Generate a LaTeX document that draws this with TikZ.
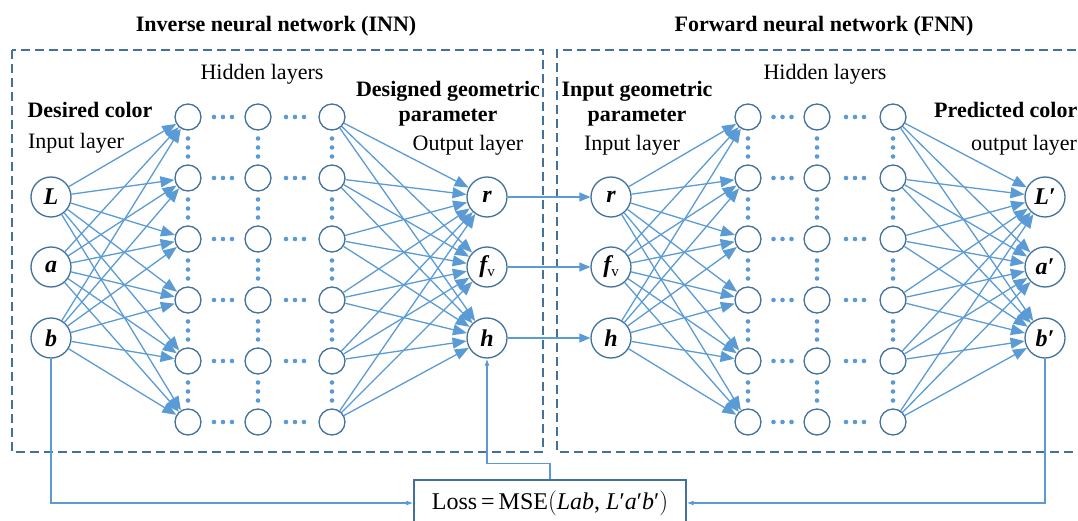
\documentclass[tikz,border=0pt]{standalone}
\usepackage{fontspec}
\setmainfont{Liberation Serif}
\usetikzlibrary{arrows.meta}
\definecolor{lineblue}{HTML}{5B9BD5}
\definecolor{circblue}{HTML}{41719C}
\begin{document}
\begin{tikzpicture}[x=1pt,y=-1pt,
  neuron/.style={circle,draw=circblue,line width=1.3pt,minimum size=26pt,inner sep=0pt},
  io/.style={circle,draw=circblue,line width=1.3pt,minimum size=40pt,inner sep=0pt,font=\fontsize{24}{24}\selectfont\bfseries\itshape},
  conn/.style={draw=lineblue,line width=1.3pt,-{Triangle[length=14pt,width=11pt]}},
  link/.style={draw=lineblue,line width=1.3pt,-{Triangle[length=11pt,width=9pt]}},
  fb/.style={draw=lineblue,line width=1.2pt,-{Latex[length=7pt,width=5pt]}},
  frame/.style={draw=circblue,line width=1.3pt,dash pattern=on 9pt off 5pt},
  lbl/.style={font=\fontsize{22}{25}\selectfont,inner sep=0pt,align=center},
  blbl/.style={font=\fontsize{22}{25}\selectfont\bfseries,inner sep=0pt,align=center},
  lossbox/.style={draw=circblue,line width=1.3pt,minimum width=272pt,minimum height=46pt,inner sep=0pt,font=\fontsize{24}{26}\selectfont}]
\useasboundingbox (0,0) rectangle (1078,521);

% frames
\draw[frame] (12,50) rectangle (543,452);
\draw[frame] (1090,50) -- (557,50) -- (557,452) -- (1090,452);

% titles and labels
\node[blbl] (t1) at (276,26) {Inverse neural network (INN)};
\node[blbl] (t2) at (824,26) {Forward neural network (FNN)};
\node[lbl] (h1) at (262,74) {Hidden layers};
\node[lbl] (h2) at (825,74) {Hidden layers};
\node[blbl] (dc) at (90,110) {Desired color};
\node[lbl] (il1) at (76,143) {Input layer};
\node[blbl] (dg) at (448,104) {Designed geometric\\parameter};
\node[lbl] (ol1) at (468,145) {Output layer};
\node[blbl] (ig) at (637,104) {Input geometric\\parameter};
\node[lbl] (il2) at (632,145) {Input layer};
\node[blbl,anchor=west] (pc) at (934,110) {Predicted color};
\node[lbl,anchor=west] (ol2) at (971,145) {output layer};

% io nodes
\node[io] (IL) at (51,197) {L};
\node[io] (Ia) at (51,267) {a};
\node[io] (Ib) at (51,338) {b};
\node[io] (Or) at (487,197) {r};
\node[io] (Of) at (487,267) {f\raisebox{-0.35ex}{\normalfont\fontsize{15}{15}\selectfont v}};
\node[io] (Oh) at (487,338) {h};
\node[io] (Fr) at (611,197) {r};
\node[io] (Ff) at (611,267) {f\raisebox{-0.35ex}{\normalfont\fontsize{15}{15}\selectfont v}};
\node[io] (Fh) at (611,338) {h};
\node[io] (PL) at (1045,197) {L′};
\node[io] (Pa) at (1045,267) {a′};
\node[io] (Pb) at (1045,338) {b′};

% hidden neurons
\foreach \y [count=\i] in {117,178,239,300,361,422} {
  \node[neuron] (A1-\i) at (188,\y) {};
  \node[neuron] (A2-\i) at (258,\y) {};
  \node[neuron] (A3-\i) at (332,\y) {};
  \node[neuron] (B1-\i) at (748,\y) {};
  \node[neuron] (B2-\i) at (817,\y) {};
  \node[neuron] (B3-\i) at (893,\y) {};
  \foreach \c in {223,295,782.5,855} {
    \foreach \d in {-9,0,9} \fill[lineblue] ({\c+\d},\y) circle (2.3pt);
  }
}
% vertical dots
\foreach \c in {188,258,332,748,817,893} {
  \foreach \y in {147.5,208.5,269.5,330.5,391.5} {
    \foreach \d in {-9,0,9} \fill[lineblue] (\c,{\y+\d}) circle (2.3pt);
  }
}

% connections
\foreach \i in {1,...,6} {
  \foreach \s in {IL,Ia,Ib} \draw[conn] (\s) -- (A1-\i);
  \foreach \t in {Or,Of,Oh} \draw[conn] (A3-\i) -- (\t);
  \foreach \s in {Fr,Ff,Fh} \draw[conn] (\s) -- (B1-\i);
  \foreach \t in {PL,Pa,Pb} \draw[conn] (B3-\i) -- (\t);
}
\draw[link] (Or) -- (Fr);
\draw[link] (Of) -- (Ff);
\draw[link] (Oh) -- (Fh);

% loss
\node[lossbox] (Loss) at (550,503) {Loss\,=\,MSE$\Bigl($\textit{Lab}, \textit{L}′\textit{a}′\textit{b}′$\Bigr)$};
\draw[fb] (Ib.south) |- (Loss.west);
\draw[fb] (Pb.south) |- (Loss.east);
\draw[fb] (Loss.north) -- ++(0,-16) -| (Oh.south);
\end{tikzpicture}
\end{document}
